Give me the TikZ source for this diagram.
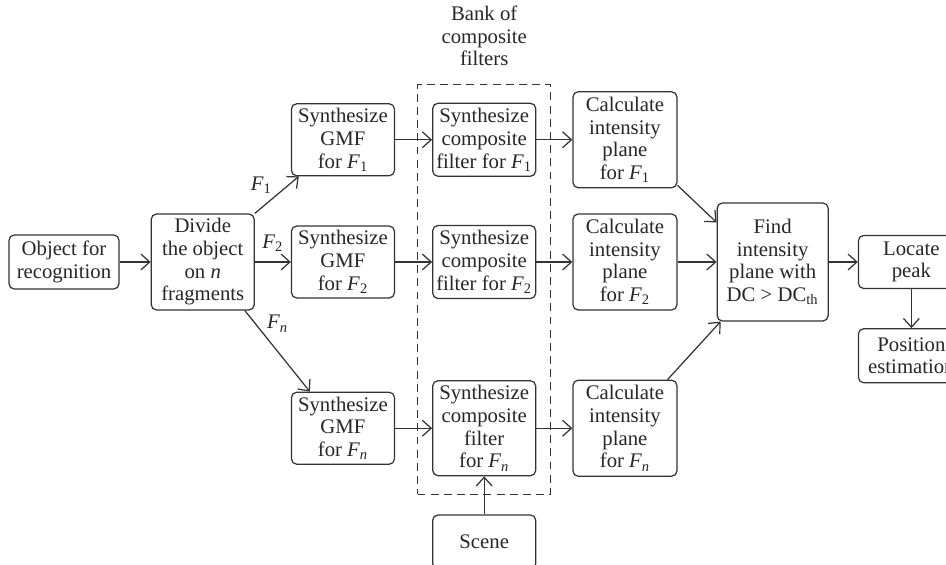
\documentclass[tikz,border=0pt]{standalone}
\usepackage{fontspec}
\setmainfont{Liberation Serif}
\usepackage{tikz}
\usetikzlibrary{arrows.meta, positioning, fit}
\colorlet{linegray}{black!80}
\tikzset{
  stage/.style={rectangle, draw=linegray, line width=0.7pt, rounded corners=3pt,
                align=center, inner sep=1pt, minimum width=2.06cm,
                font=\fontsize{11.8}{12.9}\selectfont, text=black!85},
  gmfbox/.style={stage, minimum height=1.44cm},
  filterbox/.style={stage, minimum height=1.46cm},
  planebox/.style={stage, minimum width=2.08cm, minimum height=1.92cm},
  arrow/.style={-{Straight Barb[length=5pt, width=9pt]}, line width=0.7pt, color=linegray},
  frag/.style={font=\fontsize{11.8}{12.9}\selectfont, text=black!85, inner sep=2pt},
}

\begin{document}
\begin{tikzpicture}[node distance=0.72cm and 0.72cm]
  \useasboundingbox (0,0) rectangle (18.92,-11.3);
  \clip (0,0) rectangle (18.92,-11.3);

  \node[stage, minimum width=2.2cm, minimum height=1.08cm] (obj) at (1.28,-5.24) {Object for\\recognition};
  \node[stage, minimum height=1.92cm, right=0.62cm of obj] (divide) {Divide\\the object\\on \textit{n}\\fragments};

  \node[gmfbox, right=0.72cm of divide] (gmf2) {Synthesize\\GMF\\for \textit{F}\textsubscript{2}};
  \node[gmfbox, above=0.98cm of gmf2] (gmf1) {Synthesize\\GMF\\for \textit{F}\textsubscript{1}};
  \node[gmfbox, below=1.86cm of gmf2] (gmfn) {Synthesize\\GMF\\for \textit{F\textsubscript{n}}};

  \node[filterbox, right=0.74cm of gmf1] (cf1) {Synthesize\\composite\\filter for \textit{F}\textsubscript{1}};
  \node[filterbox, right=0.74cm of gmf2] (cf2) {Synthesize\\composite\\filter for \textit{F}\textsubscript{2}};
  \node[filterbox, minimum height=1.9cm, right=0.74cm of gmfn] (cfn) {Synthesize\\composite\\filter\\for \textit{F\textsubscript{n}}};

  \node[planebox, right=0.72cm of cf1] (calc1) {Calculate\\intensity\\plane\\for \textit{F}\textsubscript{1}};
  \node[planebox, right=0.72cm of cf2] (calc2) {Calculate\\intensity\\plane\\for \textit{F}\textsubscript{2}};
  \node[planebox, right=0.72cm of cfn] (calcn) {Calculate\\intensity\\plane\\for \textit{F\textsubscript{n}}};

  \node[stage, minimum width=2.22cm, minimum height=2.36cm, right=0.78cm of calc2] (find) {Find\\intensity\\plane with\\DC > DC\textsubscript{th}};
  \node[stage, minimum width=2.12cm, minimum height=1.06cm, right=0.58cm of find] (locate) {Locate\\peak};
  \node[stage, minimum width=2.12cm, minimum height=1.08cm, below=0.78cm of locate] (pos) {Position\\estimation};
  \node[stage, minimum height=1.08cm, below=0.76cm of cfn] (scene) {Scene};

  \node[draw=linegray, line width=0.7pt, dash pattern=on 4.5pt off 3pt,
        fit=(cf1)(cfn), inner xsep=0.29cm, inner ysep=0.36cm] (bank) {};
  \node[frag, align=center, above=0.28cm of bank] (banktitle) {Bank of\\composite\\filters};

  \draw[arrow] (obj) -- (divide);
  \draw[arrow] (divide.north east) -- node[frag, pos=0.45, above left=-1pt] {\textit{F}\textsubscript{1}} ([xshift=0.16cm]gmf1.south west);
  \draw[arrow] (divide) -- node[frag, above=0.12cm] {\textit{F}\textsubscript{2}} (gmf2);
  \draw[arrow] ([xshift=-0.2cm]divide.south east) -- node[frag, pos=0.3, above right=-1pt] {\textit{F\textsubscript{n}}} ([xshift=0.38cm]gmfn.north west);

  \draw[arrow] (gmf1) -- (cf1);
  \draw[arrow] (gmf2) -- (cf2);
  \draw[arrow] (gmfn) -- (cfn);
  \draw[arrow] (cf1) -- (calc1);
  \draw[arrow] (cf2) -- (calc2);
  \draw[arrow] (cfn) -- (calcn);
  \draw[arrow] (scene) -- (cfn);

  \draw[arrow] ([yshift=0.06cm]calc1.south east) -- ([yshift=-0.4cm]find.north west);
  \draw[arrow] (calc2) -- (find);
  \draw[arrow] ([xshift=-0.2cm]calcn.north east) -- ([xshift=0.08cm]find.south west);
  \draw[arrow] (find) -- (locate);
  \draw[arrow] (locate) -- (pos);
\end{tikzpicture}
\end{document}
